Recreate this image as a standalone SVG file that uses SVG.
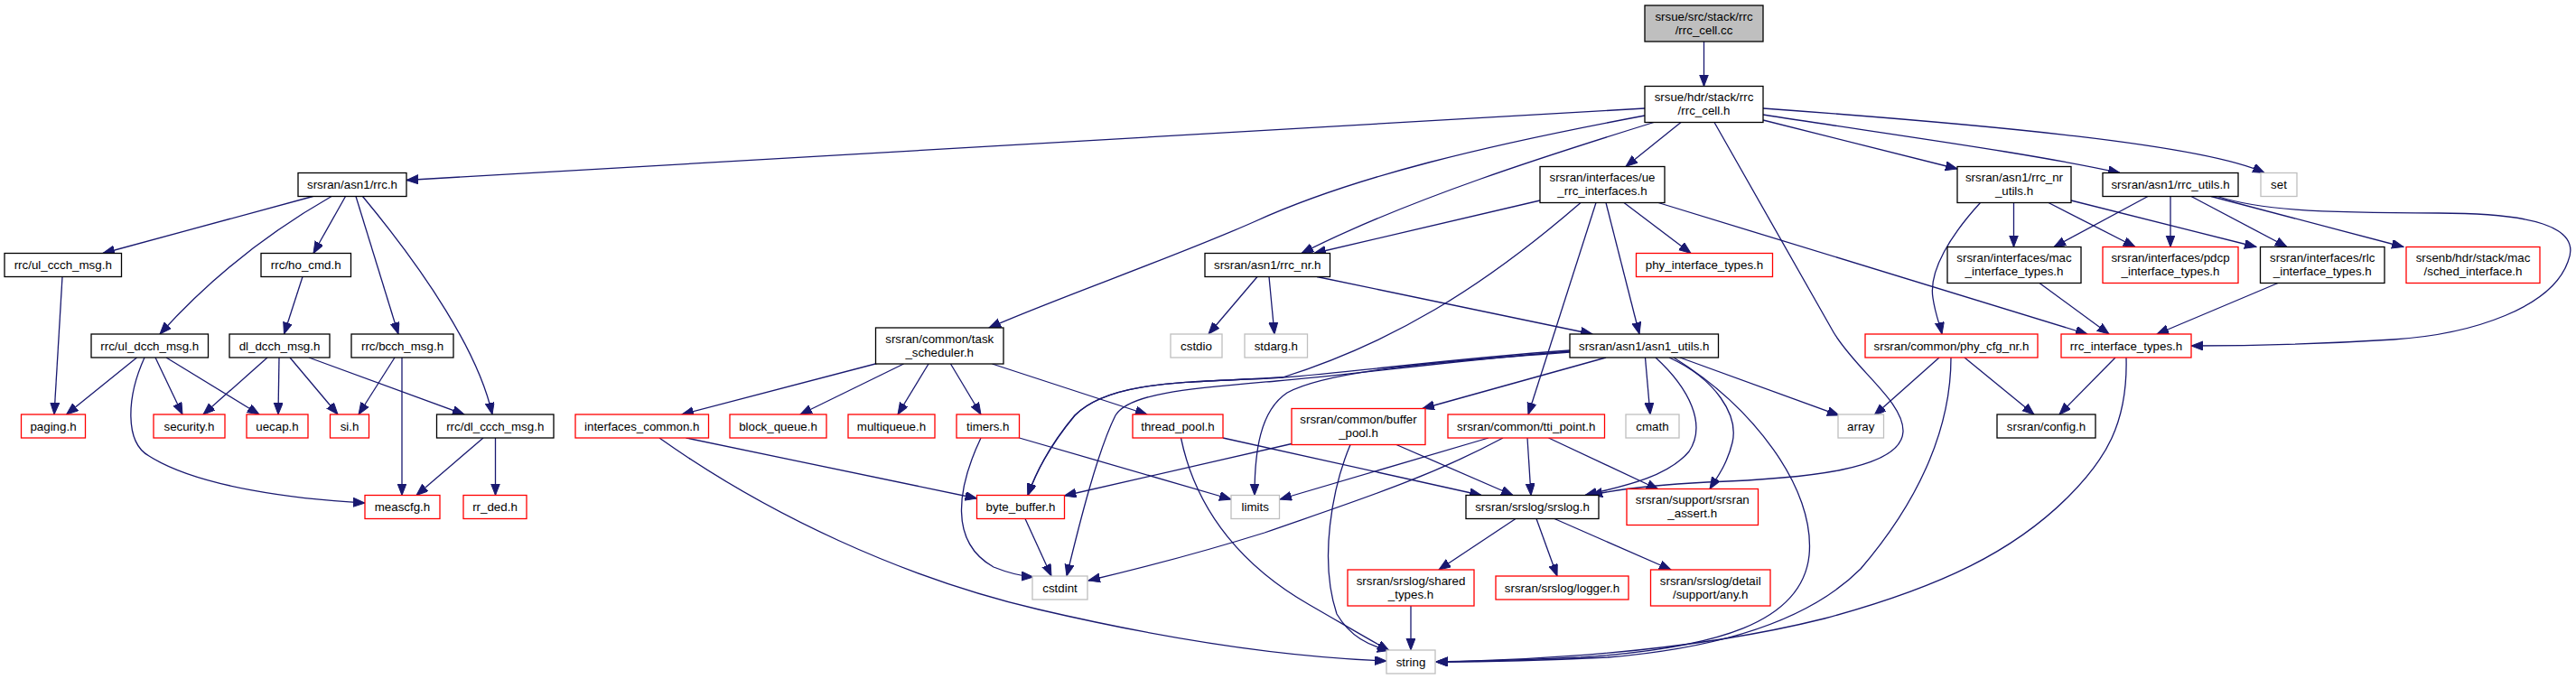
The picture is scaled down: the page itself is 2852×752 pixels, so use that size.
<svg xmlns="http://www.w3.org/2000/svg" width="2852" height="752" viewBox="0 0 2852 752">
<defs>
<style>
rect{stroke-width:1.3;fill:#ffffff;stroke:#000000}
rect.r{stroke:#ff0000}
rect.g{stroke:#bfbfbf}
rect.root{fill:#bfbfbf}
text{font-family:"Liberation Sans",Arial,Helvetica,sans-serif;font-size:13.33px;text-anchor:middle;fill:#000000}
#edges path{fill:none;stroke:#191970;stroke-width:1.3;marker-end:url(#ah)}
</style>
<marker id="ah" markerUnits="userSpaceOnUse" markerWidth="14" markerHeight="12" refX="13" refY="5" orient="auto">
<path d="M0,0 L13,5 L0,10 z" fill="#191970" stroke="#191970" stroke-width="1"/>
</marker>
</defs>
<rect x="0" y="0" width="2852" height="752" style="fill:#ffffff;stroke:none"/>
<g id="edges">
<path d="M1886.5,46 L1886.5,95.5"/>
<path d="M1821,120 L450,199.5"/>
<path d="M1821,128 C1650,160 1500,195 1390,245 C1300,285 1170,330 1095,363"/>
<path d="M1831,135.5 C1720,170 1560,220 1441,280.5"/>
<path d="M1861,135.5 L1800,184.5"/>
<path d="M1898,135.5 L2030,368 C2055,410 2108,445 2107,478 C2105,520 2000,530 1890,534 C1830,537 1790,542 1761,548.5"/>
<path d="M1952,133 L2167,187"/>
<path d="M1952,127 C2100,150 2250,170 2347,191.5"/>
<path d="M1952,120 C2200,138 2440,160 2507,191.5"/>
<path d="M346.5,217.5 L114,280.5"/>
<path d="M367,217.5 C310,250 240,300 177,370"/>
<path d="M382.5,217.5 L347,280.5"/>
<path d="M394,217.5 L441,370"/>
<path d="M401.5,217.5 C470,300 530,390 545,459"/>
<path d="M335,306.5 L314.5,370"/>
<path d="M69,306.5 L60,459"/>
<path d="M151.5,396 L73.5,459"/>
<path d="M172,396 L202,459"/>
<path d="M184,396 L287,459"/>
<path d="M160,396 C140,440 138,490 165,505 C220,540 330,553 404,557"/>
<path d="M296,396 L225,459"/>
<path d="M309,396 L308,459"/>
<path d="M321,396 L374,459"/>
<path d="M342,396 L514,459"/>
<path d="M437,396 L397,459"/>
<path d="M445,396 L445,548.5"/>
<path d="M535,485 L461,548.5"/>
<path d="M548.5,485 L548.5,548.5"/>
<path d="M971,402.5 L755,459"/>
<path d="M1000.5,403 L886,459"/>
<path d="M1028,403 L994,459"/>
<path d="M1052.5,403 L1086,459"/>
<path d="M1098.5,403 L1270,459"/>
<path d="M759.5,485 L1081.5,552"/>
<path d="M730,485 C850,570 1000,640 1150,675 C1300,710 1430,728 1535,732"/>
<path d="M1128.5,485 L1363,553"/>
<path d="M1086,485 C1060,540 1050,600 1100,628 C1115,634 1130,638 1144,639"/>
<path d="M1354,485 L1640,548.5"/>
<path d="M1307.5,485 C1325,570 1380,630 1450,670 C1490,693 1515,708 1538,720.5"/>
<path d="M1495,492.5 C1475,540 1460,620 1480,680 C1495,705 1515,715 1538,720.5"/>
<path d="M1430,491.5 L1178.5,549"/>
<path d="M1546,492.5 L1675,548.5"/>
<path d="M1135,574.5 L1164,638"/>
<path d="M1392,306.5 L1338,370"/>
<path d="M1405,306.5 L1411,370"/>
<path d="M1458,306.5 L1763,370"/>
<path d="M1705,222 L1455,280.5"/>
<path d="M1750,224.5 C1640,320 1540,380 1420,418 C1320,424 1230,420 1190,460 C1165,490 1148,520 1138,548.5"/>
<path d="M1767,224.5 L1692,459"/>
<path d="M1778,224.5 L1815,370"/>
<path d="M1798,224.5 L1872,280.5"/>
<path d="M1836,224.5 L2311,370"/>
<path d="M1738,388 C1600,398 1500,412 1420,418 C1320,424 1230,420 1190,460 C1165,490 1148,520 1138,548.5"/>
<path d="M1738,389 C1600,400 1500,415 1413,422 C1320,430 1250,435 1235,460 C1215,500 1195,580 1181,638"/>
<path d="M1738,390 C1600,400 1470,410 1425,435 C1395,455 1389,500 1389,548.5"/>
<path d="M1778,396 L1575,452.5"/>
<path d="M1821.5,396 L1827,459"/>
<path d="M1833,396 C1870,430 1890,470 1870,500 C1845,530 1790,540 1755,548.5"/>
<path d="M1848,396 C1900,420 1925,460 1918,490 C1912,515 1900,530 1893,541.5"/>
<path d="M1853,396 C1940,450 2010,540 2003,615 C1995,690 1900,718 1750,728 C1680,731 1620,733 1590,733"/>
<path d="M1860,396 L2036,460"/>
<path d="M1648,485 L1417,553"/>
<path d="M1664,485 C1580,530 1500,555 1400,590 C1320,615 1260,630 1205,643"/>
<path d="M1691,485 L1695,548.5"/>
<path d="M1714.5,485 L1836,542"/>
<path d="M2147,396 L2075,460"/>
<path d="M2175,396 L2252,459"/>
<path d="M2160,396 C2160,480 2120,560 2060,630 C2000,690 1900,718 1780,728 C1700,732 1630,733 1590,733"/>
<path d="M2342,396 L2280,459"/>
<path d="M2354,396 C2356,470 2330,510 2290,550 C2230,610 2150,650 2020,685 C1900,715 1750,730 1590,733"/>
<path d="M2192.5,224.5 C2160,260 2135,300 2140,330 C2143,350 2148,360 2150,370"/>
<path d="M2229.5,224.5 L2229.5,273.5"/>
<path d="M2268,224.5 L2364,273.5"/>
<path d="M2293,222 L2498,273.5"/>
<path d="M2378,217.5 L2274,273.5"/>
<path d="M2403,217.5 L2403,273.5"/>
<path d="M2426,217.5 L2532,273.5"/>
<path d="M2448,217.5 L2661,273.5"/>
<path d="M2455,217.5 C2500,232 2560,236 2700,236 C2800,236 2860,250 2843,290 C2825,340 2740,370 2650,376 C2570,381 2480,383 2426,383"/>
<path d="M2258,313.5 L2335,370"/>
<path d="M2522,313.5 L2388,370"/>
<path d="M1678,574.5 L1593,631"/>
<path d="M1701,574.5 L1724,638"/>
<path d="M1721,574.5 L1850,631"/>
<path d="M1562,671 L1562,720"/>
</g>
<g id="n_root"><rect class="root" x="1821" y="6" width="131" height="40"/><text x="1886.5" y="22.5">srsue/src/stack/rrc</text><text x="1886.5" y="37.5">/rrc_cell.cc</text></g>
<g id="n_rrc_cell_h"><rect x="1821" y="95.5" width="131" height="40"/><text x="1886.5" y="112">srsue/hdr/stack/rrc</text><text x="1886.5" y="127">/rrc_cell.h</text></g>
<g id="n_rrc_h"><rect x="330" y="191.5" width="120" height="26"/><text x="390" y="209">srsran/asn1/rrc.h</text></g>
<g id="n_ue_rrc"><rect x="1705" y="184.5" width="138" height="40"/><text x="1774" y="201">srsran/interfaces/ue</text><text x="1774" y="216">_rrc_interfaces.h</text></g>
<g id="n_rrc_nr_utils"><rect x="2167" y="184.5" width="126" height="40"/><text x="2230" y="201">srsran/asn1/rrc_nr</text><text x="2230" y="216">_utils.h</text></g>
<g id="n_rrc_utils"><rect x="2328" y="191.5" width="150" height="26"/><text x="2403" y="209">srsran/asn1/rrc_utils.h</text></g>
<g id="n_set"><rect class="g" x="2503" y="191.5" width="40" height="26"/><text x="2523" y="209">set</text></g>
<g id="n_ul_ccch"><rect x="5" y="280.5" width="129.5" height="26"/><text x="69.75" y="298">rrc/ul_ccch_msg.h</text></g>
<g id="n_ho_cmd"><rect x="289" y="280.5" width="99.5" height="26"/><text x="338.75" y="298">rrc/ho_cmd.h</text></g>
<g id="n_rrc_nr"><rect x="1334" y="280.5" width="138.5" height="26"/><text x="1403.25" y="298">srsran/asn1/rrc_nr.h</text></g>
<g id="n_phy_if"><rect class="r" x="1811.5" y="280.5" width="151" height="26"/><text x="1887" y="298">phy_interface_types.h</text></g>
<g id="n_mac_if"><rect x="2156" y="273.5" width="148" height="40"/><text x="2230" y="290">srsran/interfaces/mac</text><text x="2230" y="305">_interface_types.h</text></g>
<g id="n_pdcp_if"><rect class="r" x="2328" y="273.5" width="150" height="40"/><text x="2403" y="290">srsran/interfaces/pdcp</text><text x="2403" y="305">_interface_types.h</text></g>
<g id="n_rlc_if"><rect x="2502.5" y="273.5" width="137.5" height="40"/><text x="2571.25" y="290">srsran/interfaces/rlc</text><text x="2571.25" y="305">_interface_types.h</text></g>
<g id="n_sched_if"><rect class="r" x="2664" y="273.5" width="148" height="40"/><text x="2738" y="290">srsenb/hdr/stack/mac</text><text x="2738" y="305">/sched_interface.h</text></g>
<g id="n_task_sched"><rect x="969.5" y="363" width="141.5" height="40"/><text x="1040.25" y="379.5">srsran/common/task</text><text x="1040.25" y="394.5">_scheduler.h</text></g>
<g id="n_ul_dcch"><rect x="101" y="370" width="129.5" height="26"/><text x="165.75" y="387.5">rrc/ul_dcch_msg.h</text></g>
<g id="n_dl_dcch"><rect x="254" y="370" width="111" height="26"/><text x="309.5" y="387.5">dl_dcch_msg.h</text></g>
<g id="n_bcch"><rect x="389" y="370" width="113" height="26"/><text x="445.5" y="387.5">rrc/bcch_msg.h</text></g>
<g id="n_cstdio"><rect class="g" x="1296" y="370" width="57" height="26"/><text x="1324.5" y="387.5">cstdio</text></g>
<g id="n_stdarg"><rect class="g" x="1378" y="370" width="69.5" height="26"/><text x="1412.75" y="387.5">stdarg.h</text></g>
<g id="n_asn1_utils"><rect x="1738" y="370" width="164.5" height="26"/><text x="1820.25" y="387.5">srsran/asn1/asn1_utils.h</text></g>
<g id="n_phy_cfg_nr"><rect class="r" x="2065" y="370" width="191" height="26"/><text x="2160.5" y="387.5">srsran/common/phy_cfg_nr.h</text></g>
<g id="n_rrc_if_types"><rect class="r" x="2282" y="370" width="144" height="26"/><text x="2354" y="387.5">rrc_interface_types.h</text></g>
<g id="n_paging"><rect class="r" x="23.5" y="459" width="71" height="26"/><text x="59" y="476.5">paging.h</text></g>
<g id="n_security"><rect class="r" x="170" y="459" width="79" height="26"/><text x="209.5" y="476.5">security.h</text></g>
<g id="n_uecap"><rect class="r" x="273" y="459" width="68" height="26"/><text x="307" y="476.5">uecap.h</text></g>
<g id="n_si"><rect class="r" x="365.5" y="459" width="43" height="26"/><text x="387" y="476.5">si.h</text></g>
<g id="n_dl_ccch"><rect x="483.5" y="459" width="129.5" height="26"/><text x="548.25" y="476.5">rrc/dl_ccch_msg.h</text></g>
<g id="n_if_common"><rect class="r" x="637" y="459" width="147.5" height="26"/><text x="710.75" y="476.5">interfaces_common.h</text></g>
<g id="n_block_queue"><rect class="r" x="808" y="459" width="107" height="26"/><text x="861.5" y="476.5">block_queue.h</text></g>
<g id="n_multiqueue"><rect class="r" x="939" y="459" width="96" height="26"/><text x="987" y="476.5">multiqueue.h</text></g>
<g id="n_timers"><rect class="r" x="1059" y="459" width="69.5" height="26"/><text x="1093.75" y="476.5">timers.h</text></g>
<g id="n_thread_pool"><rect class="r" x="1254" y="459" width="100" height="26"/><text x="1304" y="476.5">thread_pool.h</text></g>
<g id="n_buffer_pool"><rect class="r" x="1430" y="452.5" width="148" height="40"/><text x="1504" y="469">srsran/common/buffer</text><text x="1504" y="484">_pool.h</text></g>
<g id="n_tti_point"><rect class="r" x="1603" y="459" width="173.5" height="26"/><text x="1689.75" y="476.5">srsran/common/tti_point.h</text></g>
<g id="n_cmath"><rect class="g" x="1800" y="459" width="59" height="26"/><text x="1829.5" y="476.5">cmath</text></g>
<g id="n_array"><rect class="g" x="2035" y="459" width="50.5" height="26"/><text x="2060.25" y="476.5">array</text></g>
<g id="n_config"><rect x="2211" y="459" width="109" height="26"/><text x="2265.5" y="476.5">srsran/config.h</text></g>
<g id="n_meascfg"><rect class="r" x="404" y="548.5" width="83" height="26"/><text x="445.5" y="566">meascfg.h</text></g>
<g id="n_rr_ded"><rect class="r" x="513" y="548.5" width="70" height="26"/><text x="548" y="566">rr_ded.h</text></g>
<g id="n_byte_buffer"><rect class="r" x="1081.5" y="548.5" width="97" height="26"/><text x="1130" y="566">byte_buffer.h</text></g>
<g id="n_limits"><rect class="g" x="1363" y="548.5" width="53.5" height="26"/><text x="1389.75" y="566">limits</text></g>
<g id="n_srslog"><rect x="1623" y="548.5" width="147" height="26"/><text x="1696.5" y="566">srsran/srslog/srslog.h</text></g>
<g id="n_srsran_assert"><rect class="r" x="1801" y="541.5" width="145.5" height="40"/><text x="1873.75" y="558">srsran/support/srsran</text><text x="1873.75" y="573">_assert.h</text></g>
<g id="n_cstdint"><rect class="g" x="1143" y="638" width="61" height="26"/><text x="1173.5" y="655.5">cstdint</text></g>
<g id="n_shared_types"><rect class="r" x="1492" y="631" width="140" height="40"/><text x="1562" y="647.5">srsran/srslog/shared</text><text x="1562" y="662.5">_types.h</text></g>
<g id="n_logger"><rect class="r" x="1656" y="638" width="147" height="26"/><text x="1729.5" y="655.5">srsran/srslog/logger.h</text></g>
<g id="n_any"><rect class="r" x="1827.5" y="631" width="132.5" height="40"/><text x="1893.75" y="647.5">srsran/srslog/detail</text><text x="1893.75" y="662.5">/support/any.h</text></g>
<g id="n_string"><rect class="g" x="1535" y="720" width="54" height="26"/><text x="1562" y="737.5">string</text></g>
</svg>
